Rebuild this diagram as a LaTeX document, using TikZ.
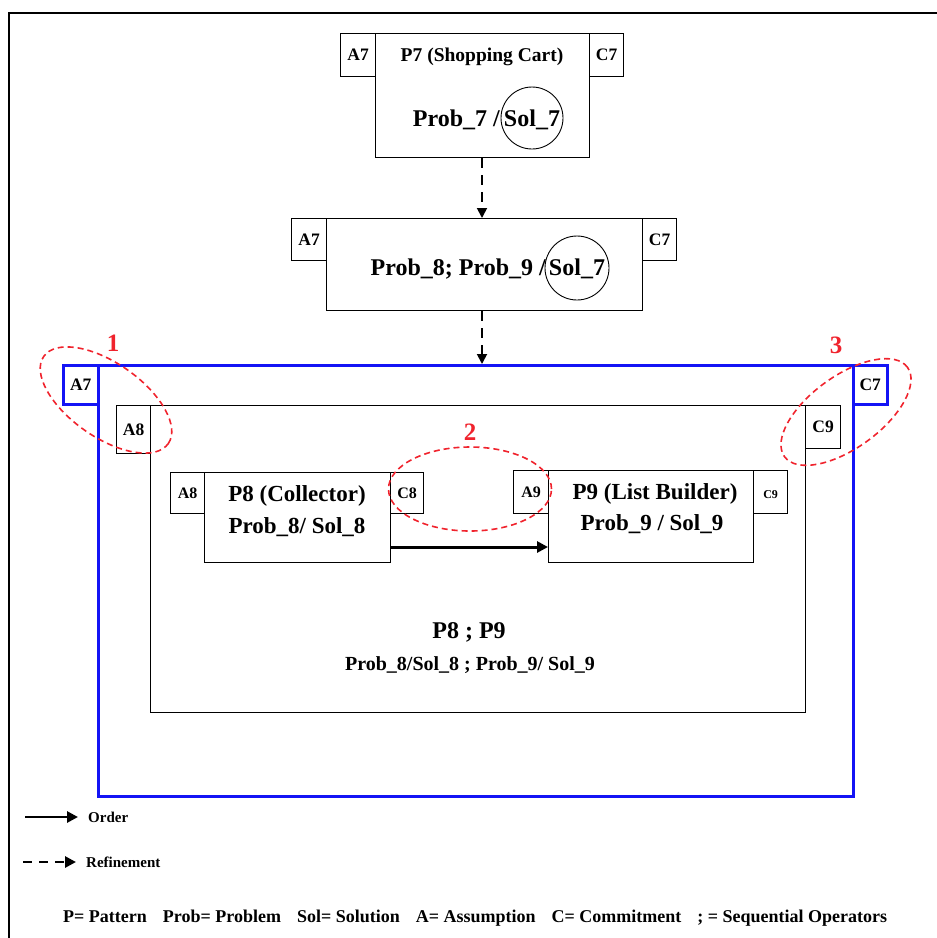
\documentclass[tikz,border=0pt]{standalone}
\usepackage{fontspec}
\setmainfont{Liberation Serif}
\usetikzlibrary{arrows.meta,shapes.geometric}
\definecolor{frblue}{RGB}{20,20,245}
\definecolor{frred}{RGB}{240,35,45}
\tikzset{
  box/.style={draw, line width=1.2pt, inner sep=0pt, anchor=north west},
  tag/.style={font=\bfseries\fontsize{17.5}{19}\selectfont, inner sep=0pt},
  tagsmall/.style={font=\bfseries\fontsize{16}{18}\selectfont, inner sep=0pt},
  title/.style={font=\bfseries\fontsize{19.5}{22}\selectfont, inner sep=0pt},
  big/.style={font=\bfseries\fontsize{24}{27}\selectfont, inner sep=0pt},
  mid/.style={font=\bfseries\fontsize{23}{26}\selectfont, inner sep=0pt},
  small/.style={font=\bfseries\fontsize{20}{22}\selectfont, inner sep=0pt},
  legend/.style={font=\bfseries\fontsize{15}{17}\selectfont, inner sep=0pt, anchor=west},
  refarrow/.style={line width=1.8pt, dash pattern=on 10pt off 7pt, -{Triangle[length=10pt,width=10pt]}},
  ordarrow/.style={line width=3pt, -{Triangle[length=11pt,width=11pt]}},
  callout/.style={draw=frred, ellipse, line width=1.6pt, dash pattern=on 6pt off 4pt, inner sep=0pt},
  num/.style={text=frred, font=\bfseries\fontsize{25}{27}\selectfont, inner sep=0pt},
  ring/.style={draw, circle, line width=0.9pt, inner sep=0pt},
}
\begin{document}
\begin{tikzpicture}[x=1pt,y=-1pt]
\useasboundingbox (0,0) rectangle (937,938);
% outer frame
\draw[line width=2.6pt] (9,938) -- (9,13) -- (940,13);

% P7 box
\node[box, minimum width=214pt, minimum height=124pt] (p7) at (375,33) {};
\node[box, minimum width=35pt, minimum height=43pt] (p7a) at (340,33) {};
\node[box, minimum width=34pt, minimum height=43pt] (p7c) at (589,33) {};
\node[tag] (p7at) at (p7a.center) {A7};
\node[tag] (p7ct) at (p7c.center) {C7};
\node[title] (p7t) at (482,57) {P7 (Shopping Cart)};
\node[big, anchor=base] (p7s) at (532,126) {Sol\_7};
\node[big, anchor=base east] (p7p) at (500,126) {Prob\_7 /};
\node[ring, minimum size=62pt] (p7r) at (532,118) {};

% refined box
\node[box, minimum width=316pt, minimum height=92pt] (r) at (326,218) {};
\node[box, minimum width=35pt, minimum height=42pt] (ra) at (291,218) {};
\node[box, minimum width=34pt, minimum height=42pt] (rc) at (642,218) {};
\node[tag] (rat) at (ra.center) {A7};
\node[tag] (rct) at (rc.center) {C7};
\node[big, anchor=base] (rs) at (577,275) {Sol\_7};
\node[big, anchor=base east] (rp) at (546,275) {Prob\_8; Prob\_9 /};
\node[ring, minimum size=64pt] (rr) at (577,268) {};

% blue composite
\node[draw=frblue, line width=2.6pt, inner sep=0pt, anchor=north west, minimum width=755pt, minimum height=431pt] (b) at (97,364) {};
\node[draw=frblue, line width=2.6pt, inner sep=0pt, anchor=north west, minimum width=35pt, minimum height=39pt] (ba) at (62,364) {};
\node[draw=frblue, line width=2.6pt, inner sep=0pt, anchor=north west, minimum width=34pt, minimum height=39pt] (bc) at (852,364) {};
\node[tag] (bat) at (ba.center) {A7};
\node[tag] (bct) at (bc.center) {C7};

% inner sequence box
\node[box, minimum width=655pt, minimum height=307pt] (s) at (150,405) {};
\node[box, minimum width=34pt, minimum height=48pt] (sa) at (116,405) {};
\node[box, minimum width=35pt, minimum height=43pt] (sc) at (805,405) {};
\node[tag] (sat) at (sa.center) {A8};
\node[tag] (sct) at (sc.center) {C9};
\node[big] (st) at (469,632) {P8 ; P9};
\node[small] (sp) at (470,665) {Prob\_8/Sol\_8 ; Prob\_9/ Sol\_9};

% P8
\node[box, minimum width=186pt, minimum height=90pt] (p8) at (204,472) {};
\node[box, minimum width=34pt, minimum height=41pt] (p8a) at (170,472) {};
\node[box, minimum width=33pt, minimum height=41pt] (p8c) at (390,472) {};
\node[tagsmall] (p8at) at (p8a.center) {A8};
\node[tagsmall] (p8ct) at (p8c.center) {C8};
\node[mid] (p8t) at (297,496) {P8 (Collector)};
\node[mid] (p8p) at (297,527) {Prob\_8/ Sol\_8};

% P9
\node[box, minimum width=205pt, minimum height=92pt] (p9) at (548,470) {};
\node[box, minimum width=35pt, minimum height=43pt] (p9a) at (513,470) {};
\node[box, minimum width=34pt, minimum height=43pt] (p9c) at (753,470) {};
\node[tagsmall] (p9at) at (p9a.center) {A9};
\node[font=\bfseries\fontsize{12}{14}\selectfont, inner sep=0pt] (p9ct) at ([yshift=-2pt]p9c.center) {C9};
\node[mid] (p9t) at (655,494) {P9 (List Builder)};
\node[mid] (p9p) at (652,524) {Prob\_9 / Sol\_9};

% connectors
\draw[refarrow] (p7.south -| 482,0) -- (r.north -| 482,0);
\draw[refarrow] (r.south -| 482,0) -- (b.north -| 482,0);
\coordinate (o1) at (390,547);
\coordinate (o2) at (548,547);
\draw[ordarrow] (o1) -- (o2);

% callouts
\node[callout, minimum width=152pt, minimum height=74pt, rotate=-35] (e1) at (106,400) {};
\node[num] (n1) at (113,343) {1};
\node[callout, minimum width=163pt, minimum height=84pt] (e2) at (470,489) {};
\node[num] (n2) at (470,432) {2};
\node[callout, minimum width=152pt, minimum height=72pt, rotate=36] (e3) at (846,412) {};
\node[num] (n3) at (836,345) {3};

% legend
\coordinate (l1a) at (25,817);
\coordinate (l1b) at (78,817);
\draw[line width=2.8pt, -{Triangle[length=11pt,width=11pt]}] (l1a) -- (l1b);
\node[legend] (lo) at (88,817) {Order};
\coordinate (l2a) at (23,862);
\coordinate (l2b) at (76,862);
\draw[line width=2.8pt, dash pattern=on 9pt off 7pt, -{Triangle[length=11pt,width=11pt]}] (l2a) -- (l2b);
\node[legend] (lr) at (86,862) {Refinement};
\node[font=\bfseries\fontsize{18}{20}\selectfont, inner sep=0pt, anchor=west] (key) at (63,918) {P= Pattern\hspace{16pt}Prob= Problem\hspace{16pt}Sol= Solution\hspace{16pt}A= Assumption\hspace{16pt}C= Commitment\hspace{16pt}; = Sequential Operators};
\end{tikzpicture}
\end{document}
